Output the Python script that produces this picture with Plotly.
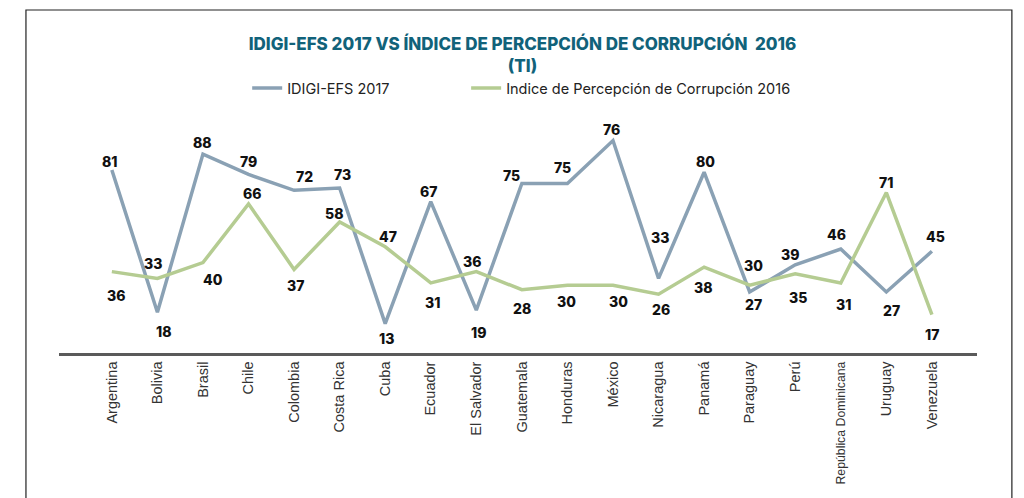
import plotly.graph_objects as go

countries = ["Argentina", "Bolivia", "Brasil", "Chile", "Colombia", "Costa Rica", "Cuba",
             "Ecuador", "El Salvador", "Guatemala", "Honduras", "México", "Nicaragua",
             "Panamá", "Paraguay", "Perú", "República Dominicana", "Uruguay", "Venezuela"]

# values as drawn by the lines
idigi_values = [81, 18, 88, 79, 72, 73, 13, 67, 19, 75, 75, 94, 33, 80, 27, 39, 46, 27, 45]
icp_values = [36, 33, 40, 66, 37, 58, 47, 31, 36, 28, 30, 30, 26, 38, 30, 35, 31, 71, 17]

# values as printed in the labels
idigi_labels = ["81", "18", "88", "79", "72", "73", "13", "67", "19", "75", "75", "76", "33",
                "80", "27", "39", "46", "27", "45"]
icp_labels = ["36", "33", "40", "66", "37", "58", "47", "31", "36", "28", "30", "30", "26",
              "38", "30", "35", "31", "71", "17"]

# label offsets in screen pixels (dx, dy; dy positive = downward)
idigi_offsets = [(-2, -8), (6, 19), (0, -12), (0, -13), (10, -14), (3, -14), (1, 15),
                 (-2, -10), (2, 22), (-10, -8), (-5, -16), (-1, -11), (1, -41),
                 (1, -11), (4, 13), (-5, -10), (-4, -15), (5, 19), (4, -15)]
icp_offsets = [(4, 24), (-4, -15), (10, 17), (4, -10), (1, 16), (-6, -8), (3, -10),
               (2, 20), (-4, -10), (0, 19), (-1, 16), (6, 16), (2, 15),
               (-1, 20), (4, -20), (3, 24), (3, 22), (0, -10), (0, 20)]

C_IDIGI = "#8aa1b4"
C_ICP = "#b5cc92"
TITLE_C = "#11627a"

ticktext = [c if c != "República Dominicana"
            else "<span style='font-size:12.3px'>República Dominicana</span>"
            for c in countries]

fig = go.Figure()
fig.add_trace(go.Scatter(x=countries, y=idigi_values, mode="lines", name="IDIGI-EFS 2017",
                         line=dict(color=C_IDIGI, width=3.5), hoverinfo="skip",
                         legend="legend"))
fig.add_trace(go.Scatter(x=countries, y=icp_values, mode="lines",
                         name="Indice de Percepción de Corrupción 2016",
                         line=dict(color=C_ICP, width=3.5), hoverinfo="skip",
                         legend="legend2"))

annotations = []
for vals, labs, offs in ((idigi_values, idigi_labels, idigi_offsets),
                         (icp_values, icp_labels, icp_offsets)):
    for c, v, t, (dx, dy) in zip(countries, vals, labs, offs):
        annotations.append(dict(x=c, y=v, xref="x", yref="y", text=t, showarrow=False,
                                xshift=dx, yshift=-dy,
                                font=dict(family="Inter", size=14, color="#111", weight=800)))

legend_font = dict(family="Inter", size=14.5, color="#222")

fig.update_layout(
    width=1024, height=498,
    margin=dict(l=51, r=55, t=112, b=153, autoexpand=False),
    paper_bgcolor="white", plot_bgcolor="white",
    title=dict(text="IDIGI-EFS 2017 VS ÍNDICE DE PERCEPCIÓN DE CORRUPCIÓN  2016<br>(TI)",
               x=0.5024, xanchor="center", y=0.915, yanchor="middle",
               font=dict(family="Inter", size=17, color=TITLE_C, weight=800)),
    legend=dict(orientation="h", x=0.205, xanchor="left", y=1.137, yanchor="middle",
                font=legend_font, bgcolor="rgba(0,0,0,0)"),
    legend2=dict(orientation="h", x=0.4435, xanchor="left", y=1.137, yanchor="middle",
                 font=legend_font, bgcolor="rgba(0,0,0,0)"),
    xaxis=dict(type="category", range=[-1.16, 18.99], showline=True, linecolor="#5a5a5a",
               linewidth=2.5, showgrid=False, zeroline=False, ticks="", tickangle=-90,
               tickmode="array", tickvals=countries, ticktext=ticktext,
               tickfont=dict(family="Liberation Sans", size=14.5, color="#333")),
    yaxis=dict(range=[0, 103.1], visible=False, showgrid=False, zeroline=False),
    annotations=annotations,
    shapes=[dict(type="rect", xref="paper", yref="paper", x0=-0.036, x1=1.038,
                 y0=-0.7, y1=1.472, line=dict(color="#222", width=1.2),
                 fillcolor="rgba(0,0,0,0)", layer="below")],
    showlegend=True,
)

fig.write_html("out.html")
